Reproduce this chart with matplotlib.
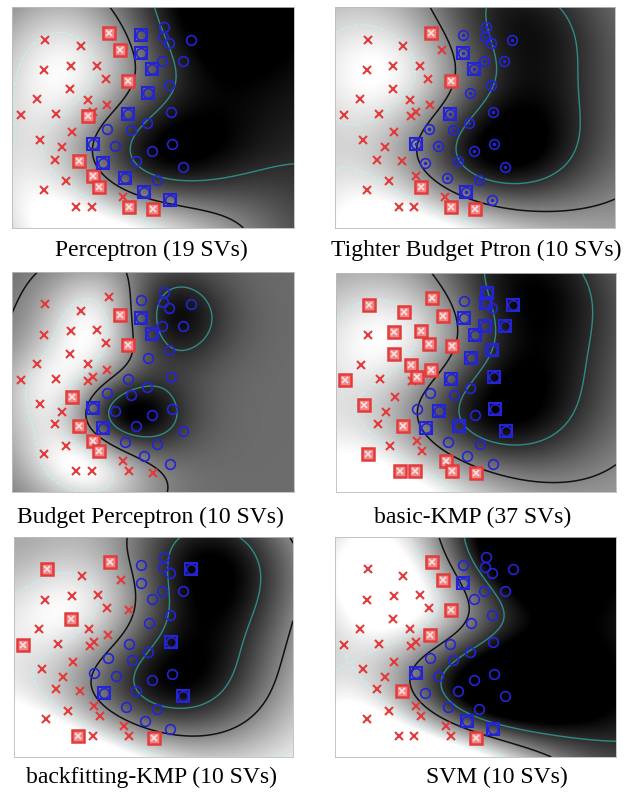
# -*- coding: utf-8 -*-
"""
Six kernel classifiers on the same toy 2-D data set, support vectors boxed
"""
import matplotlib.pyplot as plt
import numpy as np

plt.rcParams['font.family'] = ['Liberation Serif', 'DejaVu Serif']

# class -1 (red crosses)
red_x = [0.102, 0.233, 0.097, 0.197, 0.294, 0.327, 0.194, 0.073, 0.259, 0.332, 0.012,
         0.143, 0.279, 0.200, 0.085, 0.164, 0.137, 0.180, 0.099, 0.217, 0.274, 0.389,
         0.338, 0.379, 0.409, 0.262, 0.227, 0.279, 0.300, 0.410, 0.501]
red_y = [0.867, 0.837, 0.724, 0.742, 0.744, 0.683, 0.633, 0.585, 0.584, 0.558, 0.510,
         0.516, 0.525, 0.430, 0.395, 0.359, 0.302, 0.199, 0.161, 0.078, 0.080, 0.128,
         0.900, 0.817, 0.674, 0.505, 0.294, 0.223, 0.173, 0.080, 0.071]
# class +1 (blue circles)
blue_x = [0.539, 0.537, 0.560, 0.639, 0.533, 0.609, 0.560, 0.566, 0.478, 0.418, 0.330,
          0.361, 0.495, 0.569, 0.436, 0.610, 0.513,
          0.454, 0.454, 0.496, 0.483, 0.407, 0.279, 0.314, 0.397, 0.468, 0.563]
blue_y = [0.925, 0.878, 0.852, 0.867, 0.766, 0.766, 0.652, 0.525, 0.475, 0.440, 0.448,
          0.365, 0.344, 0.373, 0.294, 0.268, 0.208,
          0.887, 0.804, 0.727, 0.615, 0.516, 0.376, 0.284, 0.216, 0.151, 0.113]

titles = ["Perceptron (19 SVs)", "Tighter Budget Ptron (10 SVs)",
          "Budget Perceptron (10 SVs)", "basic-KMP (37 SVs)",
          "backfitting-KMP (10 SVs)", "SVM (10 SVs)"]

# support vector indices for each model
sv_red = [
    [22, 23, 24, 25, 26, 27, 28, 29, 30],
    [22, 24, 28, 29, 30],
    [13, 23, 24, 26, 27, 28],
    [0, 1, 3, 4, 5, 6, 8, 9, 10, 12, 14, 18, 19, 20, 21, 22, 23, 24, 26, 29, 30],
    [0, 6, 10, 19, 22, 30],
    [9, 22, 23, 24, 26, 30],
]
sv_blue = [
    [17, 18, 19, 20, 21, 22, 23, 24, 25, 26],
    [18, 19, 21, 22, 25],
    [18, 19, 22, 23],
    [0, 1, 3, 4, 5, 6, 7, 11, 13, 14, 15, 18, 19, 20, 21, 23],
    [3, 7, 15, 23],
    [18, 22, 25, 26],
]
# kernel width / ridge / weight of the SVs in the fit, per model
widths = [0.30, 0.30, 0.17, 0.30, 0.30, 0.30]
ridges = [1e-3, 1e-3, 1e-3, 5e-2, 1e-3, 1e-3]
sv_weight = [1, 1, 1, 1, 1, 12]

RED = '#e33b3b'
BLUE = '#2424d6'

# axes boxes in pixels (left, top, right, bottom) and title centres
W, H = 634, 793
boxes = [(12, 7, 294, 228), (335, 7, 615, 228),
         (12, 272, 294, 492), (336, 273, 616, 492),
         (14, 537, 293, 757), (335, 537, 616, 757)]
title_pos = [(151, 250), (476, 250), (150, 517), (473, 517), (152, 777), (497, 777)]


def rbf(a, b, sigma):
    d2 = ((a[:, None, :] - b[None, :, :]) ** 2).sum(-1)
    return np.exp(-d2 / (2 * sigma ** 2))


def decision_surface(ri, bi, gx, gy, sigma, ridge, wsv):
    """fit the expansion on the given support vectors by weighted least squares"""
    S = np.column_stack([[red_x[i] for i in ri] + [blue_x[i] for i in bi],
                         [red_y[i] for i in ri] + [blue_y[i] for i in bi]])
    X = np.column_stack([red_x + blue_x, red_y + blue_y])
    t = np.r_[-np.ones(len(red_x)), np.ones(len(blue_x))]
    wt = np.ones(len(X))
    wt[list(ri)] = wsv
    wt[[len(red_x) + i for i in bi]] = wsv
    A = np.column_stack([rbf(X, S, sigma), np.ones(len(X))])
    Aw = A * wt[:, None]
    w = np.linalg.solve(A.T @ Aw + ridge * np.eye(A.shape[1]), Aw.T @ t)
    G = np.column_stack([gx.ravel(), gy.ravel()])
    f = np.column_stack([rbf(G, S, sigma), np.ones(len(G))]) @ w
    return f.reshape(gx.shape)


fig = plt.figure(figsize=(W / 100, H / 100), dpi=100)
gx, gy = np.meshgrid(np.linspace(-0.02, 1.02, 200), np.linspace(-0.02, 1.02, 160))

for k in range(6):
    l, t, r, b = boxes[k]
    ax = fig.add_axes([l / W, 1 - b / H, (r - l) / W, (b - t) / H])
    f = decision_surface(sv_red[k], sv_blue[k], gx, gy, widths[k], ridges[k], sv_weight[k])

    ax.imshow(f, extent=(-0.02, 1.02, -0.02, 1.02), origin='lower', cmap='gray_r',
              vmin=-1.4, vmax=1.5, aspect='auto', interpolation='bilinear')
    ax.contour(gx, gy, f, levels=[-1], colors='#c4f0f0', linewidths=0.9)
    ax.contour(gx, gy, f, levels=[0], colors='#111111', linewidths=1.1)
    ax.contour(gx, gy, f, levels=[1], colors='#2f8a86', linewidths=1.0)

    # all points
    ax.plot(red_x, red_y, 'x', color=RED, ms=6, mew=1.5)
    ax.plot(blue_x, blue_y, 'o', mfc='none', mec=BLUE, ms=7, mew=1.2)
    if k == 1:
        ax.plot(blue_x, blue_y, '.', color=BLUE, ms=3)

    # boxed support vectors
    rx = [red_x[i] for i in sv_red[k]]
    ry = [red_y[i] for i in sv_red[k]]
    ax.plot(rx, ry, 's', mfc='#f08787', mec=RED, ms=8, mew=1.8)
    ax.plot(rx, ry, 'x', color='#fbe0e0', ms=5, mew=1.2)
    bx = [blue_x[i] for i in sv_blue[k]]
    by = [blue_y[i] for i in sv_blue[k]]
    ax.plot(bx, by, 's', mfc='none', mec=BLUE, ms=8, mew=1.5)

    ax.set_xlim(-0.02, 1.02)
    ax.set_ylim(-0.02, 1.02)
    ax.set_xticks([])
    ax.set_yticks([])
    for s in ax.spines.values():
        s.set_color('#bbbbbb')
        s.set_linewidth(0.6)

    tx, ty = title_pos[k]
    fig.text(tx / W, 1 - ty / H, titles[k], ha='center', va='center', fontsize=17)

plt.savefig('out.png', dpi=100)
